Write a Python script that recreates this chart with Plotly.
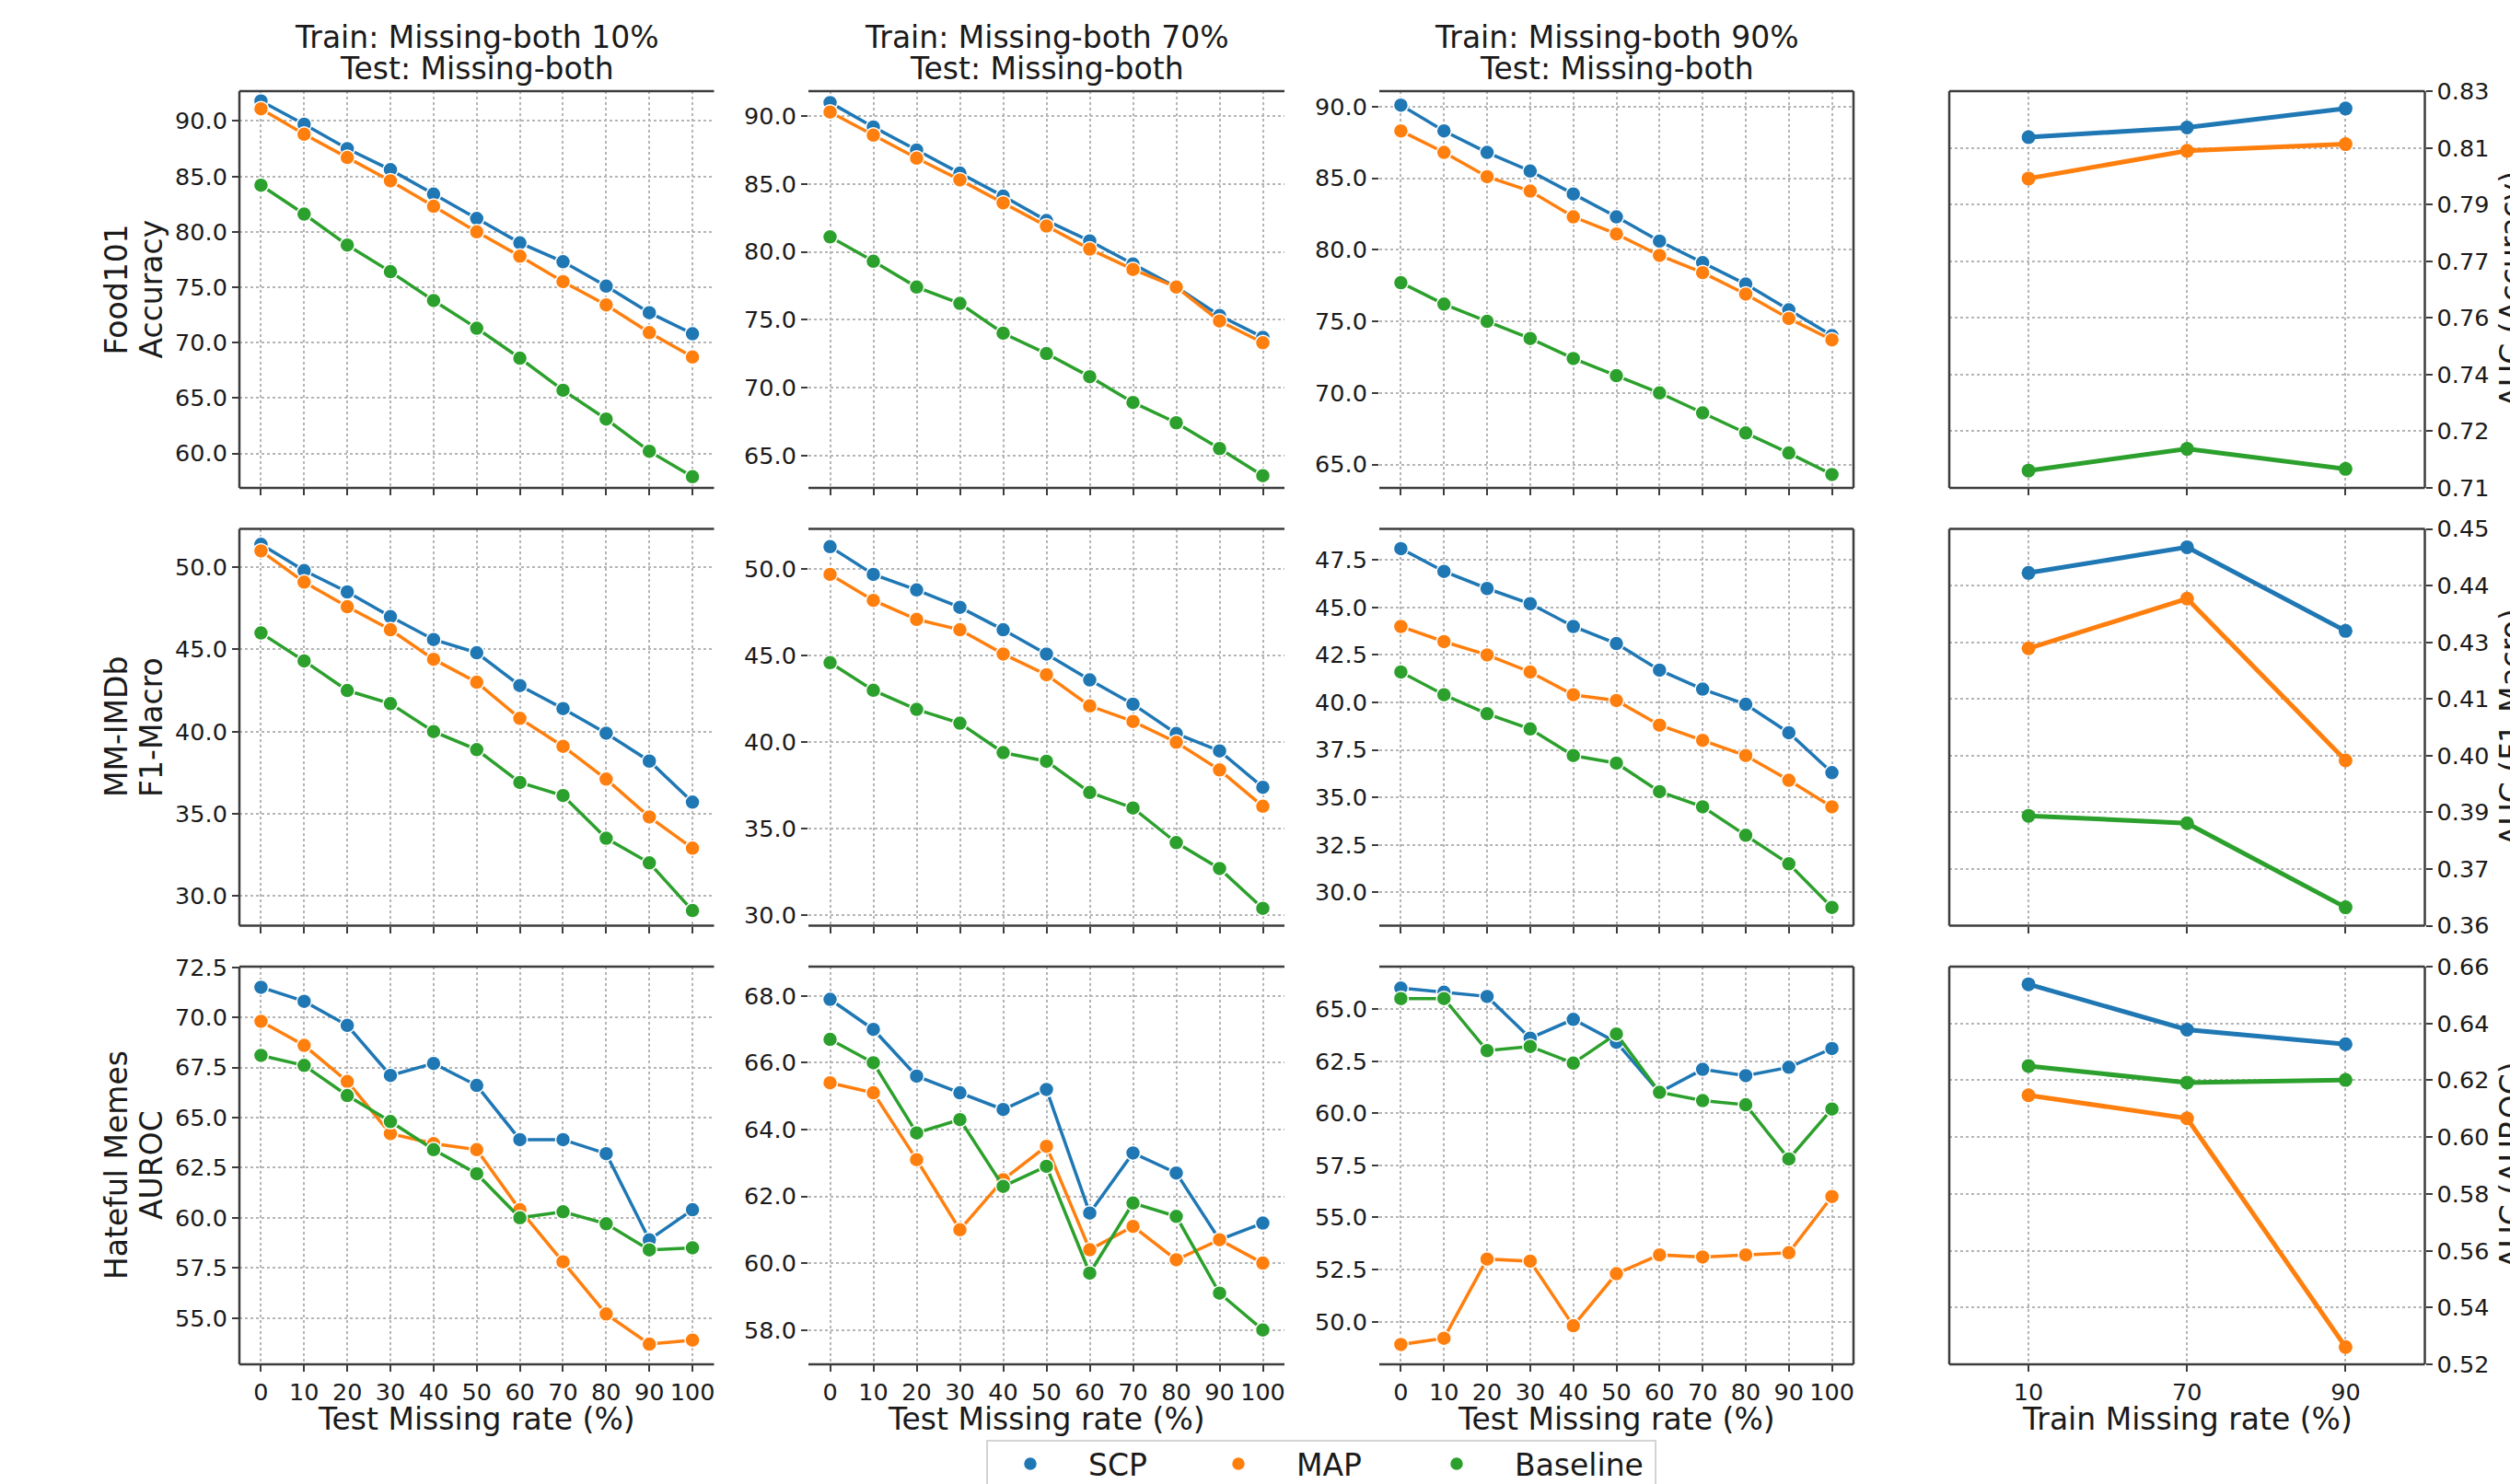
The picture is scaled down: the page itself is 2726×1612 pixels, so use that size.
import numpy as np
import plotly.graph_objects as go

W, H = 2726, 1612
FONT = "DejaVu Sans"
TXT = "#1a1a1a"
SPINE = "#3c3c3c"
GRID = "#b5b5b5"

# ---------------- data ----------------
test_rates = [0, 10, 20, 30, 40, 50, 60, 70, 80, 90, 100]
train_rates = ["10", "70", "90"]
method_names = ["SCP", "MAP", "Baseline"]
method_colors = ["#1f77b4", "#ff7f0e", "#2ca02c"]

col_titles = ["Train: Missing-both 10%", "Train: Missing-both 70%", "Train: Missing-both 90%"]
title_line2 = "Test: Missing-both"
row_labels = [("Food101", "Accuracy"), ("MM-IMDb", "F1-Macro"), ("Hateful Memes", "AUROC")]
auc_labels = ["AUC (Accuracy)", "AUC (F1-Macro)", "AUC (AUROC)"]
x_title_test = "Test Missing rate (%)"
x_title_train = "Train Missing rate (%)"

# Food101 accuracy
food_10_scp = [91.8, 89.7, 87.5, 85.6, 83.4, 81.2, 79.0, 77.3, 75.1, 72.7, 70.8]
food_10_map = [91.1, 88.8, 86.7, 84.6, 82.3, 80.0, 77.8, 75.5, 73.4, 70.9, 68.7]
food_10_base = [84.2, 81.6, 78.8, 76.4, 73.8, 71.3, 68.6, 65.7, 63.1, 60.2, 57.9]
food_70_scp = [91.0, 89.2, 87.5, 85.8, 84.1, 82.3, 80.8, 79.1, 77.4, 75.3, 73.7]
food_70_map = [90.3, 88.6, 86.9, 85.3, 83.6, 81.9, 80.2, 78.7, 77.4, 74.9, 73.3]
food_70_base = [81.1, 79.3, 77.4, 76.2, 74.0, 72.5, 70.8, 68.9, 67.4, 65.5, 63.5]
food_90_scp = [90.1, 88.3, 86.8, 85.5, 83.9, 82.3, 80.6, 79.1, 77.6, 75.8, 74.0]
food_90_map = [88.3, 86.8, 85.1, 84.1, 82.3, 81.1, 79.6, 78.4, 76.9, 75.2, 73.7]
food_90_base = [77.7, 76.2, 75.0, 73.8, 72.4, 71.2, 70.0, 68.6, 67.2, 65.8, 64.3]

# MM-IMDb F1-Macro
imdb_10_scp = [51.4, 49.8, 48.5, 47.0, 45.6, 44.8, 42.8, 41.4, 39.9, 38.2, 35.7]
imdb_10_map = [51.0, 49.1, 47.6, 46.2, 44.4, 43.0, 40.8, 39.1, 37.1, 34.8, 32.9]
imdb_10_base = [46.0, 44.3, 42.5, 41.7, 40.0, 38.9, 36.9, 36.1, 33.5, 32.0, 29.1]
imdb_70_scp = [51.3, 49.7, 48.8, 47.8, 46.5, 45.1, 43.6, 42.2, 40.5, 39.5, 37.4]
imdb_70_map = [49.7, 48.2, 47.1, 46.5, 45.1, 43.9, 42.1, 41.2, 40.0, 38.4, 36.3]
imdb_70_base = [44.6, 43.0, 41.9, 41.1, 39.4, 38.9, 37.1, 36.2, 34.2, 32.7, 30.4]
imdb_90_scp = [48.1, 46.9, 46.0, 45.2, 44.0, 43.1, 41.7, 40.7, 39.9, 38.4, 36.3]
imdb_90_map = [44.0, 43.2, 42.5, 41.6, 40.4, 40.1, 38.8, 38.0, 37.2, 35.9, 34.5]
imdb_90_base = [41.6, 40.4, 39.4, 38.6, 37.2, 36.8, 35.3, 34.5, 33.0, 31.5, 29.2]

# Hateful Memes AUROC
hm_10_scp = [71.5, 70.8, 69.6, 67.1, 67.7, 66.6, 63.9, 63.9, 63.2, 58.9, 60.4]
hm_10_map = [69.8, 68.6, 66.8, 64.2, 63.7, 63.4, 60.4, 57.8, 55.2, 53.7, 53.9]
hm_10_base = [68.1, 67.6, 66.1, 64.8, 63.4, 62.2, 60.0, 60.3, 59.7, 58.4, 58.5]
hm_70_scp = [67.9, 67.0, 65.6, 65.1, 64.6, 65.2, 61.5, 63.3, 62.7, 60.7, 61.2]
hm_70_map = [65.4, 65.1, 63.1, 61.0, 62.5, 63.5, 60.4, 61.1, 60.1, 60.7, 60.0]
hm_70_base = [66.7, 66.0, 63.9, 64.3, 62.3, 62.9, 59.7, 61.8, 61.4, 59.1, 58.0]
hm_90_scp = [66.0, 65.8, 65.6, 63.6, 64.5, 63.4, 61.0, 62.1, 61.8, 62.2, 63.1]
hm_90_map = [48.9, 49.2, 53.0, 52.9, 49.8, 52.3, 53.2, 53.1, 53.2, 53.3, 56.0]
hm_90_base = [65.5, 65.5, 63.0, 63.2, 62.4, 63.8, 61.0, 60.6, 60.4, 57.8, 60.2]

# AUC over train missing rate
auc_food_scp = [0.8117, 0.8146, 0.8203]
auc_food_map = [0.7993, 0.8076, 0.8096]
auc_food_base = [0.7117, 0.7182, 0.7122]
auc_imdb_scp = [0.4419, 0.4478, 0.4286]
auc_imdb_map = [0.4246, 0.4360, 0.3989]
auc_imdb_base = [0.3862, 0.3845, 0.3652]
auc_hm_scp = [0.6538, 0.6378, 0.6327]
auc_hm_map = [0.6147, 0.6066, 0.5261]
auc_hm_base = [0.6250, 0.6192, 0.6201]

auc_ticks_food = ["0.71", "0.72", "0.74", "0.76", "0.77", "0.79", "0.81", "0.83"]
auc_ticks_imdb = ["0.36", "0.37", "0.39", "0.40", "0.41", "0.43", "0.44", "0.45"]
auc_ticks_hm = ["0.52", "0.54", "0.56", "0.58", "0.60", "0.62", "0.64", "0.66"]

line_panels = [
    [(food_10_scp, food_10_map, food_10_base), (food_70_scp, food_70_map, food_70_base), (food_90_scp, food_90_map, food_90_base)],
    [(imdb_10_scp, imdb_10_map, imdb_10_base), (imdb_70_scp, imdb_70_map, imdb_70_base), (imdb_90_scp, imdb_90_map, imdb_90_base)],
    [(hm_10_scp, hm_10_map, hm_10_base), (hm_70_scp, hm_70_map, hm_70_base), (hm_90_scp, hm_90_map, hm_90_base)],
]
auc_panels = [
    (auc_food_scp, auc_food_map, auc_food_base),
    (auc_imdb_scp, auc_imdb_map, auc_imdb_base),
    (auc_hm_scp, auc_hm_map, auc_hm_base),
]
auc_ticktexts = [auc_ticks_food, auc_ticks_imdb, auc_ticks_hm]

# ---------------- geometry / styling ----------------
col_px = [(260, 775.5), (878, 1395), (1498, 2013), (2117, 2633.5)]
row_px = [(99, 530), (574.5, 1005.5), (1050, 1482)]
line_yranges = [
    [[56.89, 92.69], [62.6, 91.84], [63.36, 91.08]],
    [[28.18, 52.34], [29.4, 52.33], [28.24, 49.14]],
    [[52.69, 72.53], [56.97, 68.88], [47.95, 67.03]],
]
line_dticks = [[5, 5, 5], [5, 5, 2.5], [2.5, 2, 2.5]]
auc_yranges = [[0.7065, 0.8255], [0.361, 0.452], [0.52, 0.66]]
# spines drawn per column (as they appear in the reference rendering)
col_spines = [["left", "top", "bottom"], ["top", "bottom"], ["top", "bottom", "right"],
              ["left", "top", "bottom", "right"]]
legend_marker_px = [1119, 1345, 1582]

TICK_FONT = dict(family=FONT, size=25.5, color=TXT)
LABEL_SIZE = 33


def px_x(v):
    return v / W


def px_y(v):
    return 1 - v / H


fig = go.Figure()
layout = dict(
    width=W, height=H,
    margin=dict(l=0, r=0, t=0, b=0, autoexpand=False),
    paper_bgcolor="white", plot_bgcolor="white",
    font=dict(family=FONT, color=TXT, size=26),
    showlegend=True,
)
shapes = []
annotations = []

for r in range(3):
    for c in range(4):
        k = r * 4 + c + 1
        xa = "xaxis" if k == 1 else f"xaxis{k}"
        ya = "yaxis" if k == 1 else f"yaxis{k}"
        xr = "x" if k == 1 else f"x{k}"
        yr = "y" if k == 1 else f"y{k}"
        x0, x1 = col_px[c]
        y0, y1 = row_px[r]
        common_x = dict(
            domain=[px_x(x0), px_x(x1)], anchor=yr,
            showline=False, zeroline=False, automargin=False,
            showgrid=True, gridcolor=GRID, gridwidth=1.5, griddash="dot",
            ticks="outside", ticklen=7, tickwidth=2, tickcolor=SPINE,
            tickfont=TICK_FONT, showticklabels=(r == 2),
        )
        common_y = dict(
            domain=[px_y(y1), px_y(y0)], anchor=xr,
            showline=False, zeroline=False, automargin=False,
            showgrid=True, gridcolor=GRID, gridwidth=1.5, griddash="dot",
            ticks="outside", ticklen=7, tickwidth=2, tickcolor=SPINE,
            tickfont=TICK_FONT,
        )
        if c < 3:
            layout[xa] = dict(common_x, range=[-5, 105], tickmode="array",
                              tickvals=test_rates, ticktext=[str(v) for v in test_rates])
            layout[ya] = dict(common_y, range=line_yranges[r][c], tickmode="linear",
                              tick0=0, dtick=line_dticks[r][c], tickformat=".1f")
            for m in range(3):
                fig.add_trace(go.Scatter(
                    x=test_rates, y=line_panels[r][c][m], mode="lines+markers",
                    line=dict(color=method_colors[m], width=3.5),
                    marker=dict(color=method_colors[m], size=16, line=dict(color="white", width=1.5)),
                    name=method_names[m], showlegend=False, xaxis=xr, yaxis=yr,
                ))
        else:
            lo, hi = auc_yranges[r]
            layout[xa] = dict(common_x, type="category", range=[-0.5, 2.5],
                              categoryorder="array", categoryarray=train_rates)
            layout[ya] = dict(common_y, side="right", range=[lo, hi], tickmode="array",
                              tickvals=list(np.linspace(lo, hi, 8)), ticktext=auc_ticktexts[r])
            for m in range(3):
                fig.add_trace(go.Scatter(
                    x=train_rates, y=auc_panels[r][m], mode="lines+markers",
                    line=dict(color=method_colors[m], width=5),
                    marker=dict(color=method_colors[m], size=15),
                    name=method_names[m], showlegend=False, xaxis=xr, yaxis=yr,
                ))
        # spines
        for side in col_spines[c]:
            if side == "left":
                sx0, sx1, sy0, sy1 = 0, 0, 0, 1
            elif side == "right":
                sx0, sx1, sy0, sy1 = 1, 1, 0, 1
            elif side == "top":
                sx0, sx1, sy0, sy1 = 0, 1, 1, 1
            else:
                sx0, sx1, sy0, sy1 = 0, 1, 0, 0
            shapes.append(dict(type="line", xref=f"{xr} domain", yref=f"{yr} domain",
                               x0=sx0, x1=sx1, y0=sy0, y1=sy1,
                               line=dict(color=SPINE, width=2.5), layer="above"))

# column titles
for c in range(3):
    cx = px_x((col_px[c][0] + col_px[c][1]) / 2)
    annotations.append(dict(text=col_titles[c], x=cx, y=px_y(40), xref="paper", yref="paper",
                            xanchor="center", yanchor="middle", showarrow=False,
                            font=dict(family=FONT, size=LABEL_SIZE, color=TXT)))
    annotations.append(dict(text=title_line2, x=cx, y=px_y(75), xref="paper", yref="paper",
                            xanchor="center", yanchor="middle", showarrow=False,
                            font=dict(family=FONT, size=LABEL_SIZE, color=TXT)))

# row labels (left) and AUC labels (right, clipped by the page edge as in the reference)
for r in range(3):
    cy = px_y((row_px[r][0] + row_px[r][1]) / 2)
    for i, xpos in enumerate([126, 164]):
        annotations.append(dict(text=row_labels[r][i], x=px_x(xpos), y=cy, xref="paper", yref="paper",
                                xanchor="center", yanchor="middle", textangle=-90, showarrow=False,
                                font=dict(family=FONT, size=LABEL_SIZE, color=TXT)))
    annotations.append(dict(text=auc_labels[r], x=px_x(2727), y=cy, xref="paper", yref="paper",
                            xanchor="center", yanchor="middle", textangle=-90, showarrow=False,
                            font=dict(family=FONT, size=LABEL_SIZE, color=TXT)))

# x-axis titles
for c in range(4):
    cx = px_x((col_px[c][0] + col_px[c][1]) / 2)
    annotations.append(dict(text=x_title_test if c < 3 else x_title_train, x=cx, y=px_y(1541),
                            xref="paper", yref="paper", xanchor="center", yanchor="middle",
                            showarrow=False, font=dict(family=FONT, size=LABEL_SIZE, color=TXT)))

# legend frame (bottom cut by the page edge, as in the reference)
shapes.append(dict(type="rect", xref="paper", yref="paper",
                   x0=px_x(1072), x1=px_x(1798), y0=px_y(1640), y1=px_y(1565),
                   line=dict(color="#d4d4d4", width=2), fillcolor="white", layer="below"))

# legend entries (marker only), one legend per entry for exact placement
legend_ids = ["legend", "legend2", "legend3"]
for m in range(3):
    fig.add_trace(go.Scatter(
        x=[None], y=[None], mode="markers", name=method_names[m],
        marker=dict(color=method_colors[m], size=15, line=dict(color="white", width=1.5)),
        showlegend=True, xaxis="x", yaxis="y", legend=legend_ids[m],
    ))
    layout[legend_ids[m]] = dict(
        orientation="h", x=px_x(legend_marker_px[m] - 63), xanchor="left",
        y=px_y(1562), yanchor="top",
        bgcolor="rgba(0,0,0,0)", borderwidth=0,
        font=dict(family=FONT, size=LABEL_SIZE, color=TXT),
        itemwidth=116,
    )

layout["shapes"] = shapes
layout["annotations"] = annotations
fig.update_layout(**layout)

fig.write_html("out.html", config={"displayModeBar": False},
               post_script="document.body.style.margin='0';document.body.style.overflow='hidden';")
